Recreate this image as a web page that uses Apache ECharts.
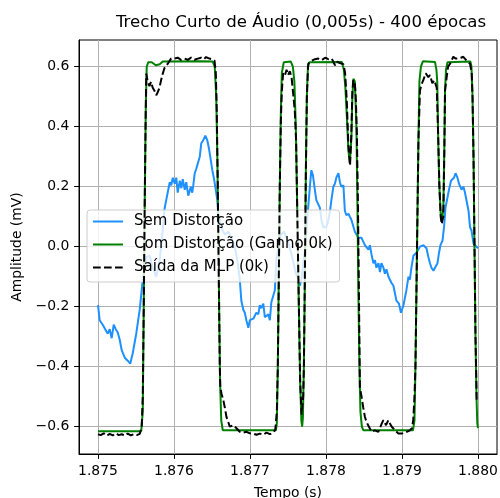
<!DOCTYPE html>
<html>
<head>
<meta charset="utf-8">
<script src="https://cdn.jsdelivr.net/npm/echarts@6/dist/echarts.min.js"></script>
<style>html,body{margin:0;padding:0;background:#fff}#c{width:500px;height:498px}</style>
</head>
<body>
<div id="c"></div>
<script>
const titleText = 'Trecho Curto de Áudio (0,005s) - 400 épocas';
const seriesNames = ['Sem Distorção', 'Com Distorção (Ganho 0k)', 'Saída da MLP (0k)'];
const xTicks = [1.875, 1.876, 1.877, 1.878, 1.879, 1.880];
const yTicks = [-0.6, -0.4, -0.2, 0.0, 0.2, 0.4, 0.6];

// Sem Distorção (blue)
const tBlue = [1.875000,1.875022,1.875062,1.875088,1.875128,1.875154,1.875180,1.875207,1.875233,1.875259,
1.875286,1.875312,1.875352,1.875391,1.875424,1.875457,1.875503,1.875549,1.875589,1.875635,
1.875681,1.875720,1.875766,1.875812,1.875852,1.875878,1.875905,1.875944,1.875964,1.875984,
1.876010,1.876030,1.876049,1.876076,1.876096,1.876115,1.876142,1.876161,1.876188,1.876221,
1.876240,1.876254,1.876273,1.876293,1.876319,1.876339,1.876359,1.876385,1.876412,1.876438,
1.876458,1.876477,1.876504,1.876524,1.876543,1.876570,1.876583,1.876622,1.876668,1.876715,
1.876754,1.876800,1.876833,1.876866,1.876886,1.876912,1.876932,1.876952,1.876978,1.876998,
1.877044,1.877083,1.877110,1.877129,1.877149,1.877175,1.877195,1.877215,1.877241,1.877261,
1.877281,1.877307,1.877327,1.877347,1.877373,1.877406,1.877446,1.877498,1.877551,1.877604,
1.877643,1.877656,1.877683,1.877722,1.877762,1.877788,1.877807,1.877827,1.877853,1.877873,
1.877919,1.877939,1.877965,1.878005,1.878031,1.878051,1.878071,1.878097,1.878117,1.878136,
1.878163,1.878183,1.878202,1.878229,1.878248,1.878268,1.878295,1.878314,1.878334,1.878380,
1.878426,1.878466,1.878512,1.878532,1.878558,1.878578,1.878598,1.878624,1.878644,1.878663,
1.878690,1.878710,1.878729,1.878756,1.878775,1.878795,1.878822,1.878861,1.878887,1.878907,
1.878927,1.878960,1.878986,1.879019,1.879058,1.879085,1.879104,1.879124,1.879150,1.879190,
1.879236,1.879282,1.879302,1.879322,1.879348,1.879368,1.879388,1.879414,1.879434,1.879467,
1.879487,1.879506,1.879533,1.879553,1.879572,1.879599,1.879618,1.879645,1.879684,1.879704,
1.879730,1.879750,1.879770,1.879783,1.879809,1.879829,1.879849,1.879875,1.879895,1.879914,
1.879941,1.879960,1.879980,1.880000];
const vBlue = [-0.195,-0.245,-0.26,-0.26,-0.29,-0.275,-0.305,-0.26,-0.275,-0.285,
-0.31,-0.345,-0.37,-0.38,-0.39,-0.355,-0.29,-0.21,-0.11,-0.035,
-0.03,-0.07,-0.10,-0.045,0.055,0.13,0.165,0.215,0.205,0.23,
0.21,0.23,0.18,0.22,0.195,0.225,0.19,0.215,0.17,0.20,
0.18,0.205,0.245,0.26,0.265,0.30,0.345,0.355,0.37,0.355,
0.33,0.30,0.255,0.23,0.20,0.155,0.11,0.065,0.04,0.05,
0.03,0.0,-0.045,-0.11,-0.18,-0.21,-0.22,-0.245,-0.27,-0.245,
-0.24,-0.22,-0.225,-0.195,-0.205,-0.19,-0.235,-0.24,-0.225,-0.245,
-0.185,-0.185,-0.145,-0.045,0.0,0.04,0.05,0.02,-0.03,-0.09,
-0.11,-0.13,-0.10,-0.01,0.12,0.20,0.255,0.24,0.19,0.155,
0.13,0.09,0.065,0.065,0.09,0.115,0.155,0.20,0.21,0.23,
0.245,0.215,0.20,0.205,0.12,0.105,0.11,0.10,0.09,0.05,
0.03,0.03,0.005,0.01,-0.01,0.005,-0.025,-0.055,-0.045,-0.07,
-0.055,-0.085,-0.055,-0.07,-0.09,-0.075,-0.10,-0.12,-0.13,-0.155,
-0.18,-0.19,-0.22,-0.195,-0.145,-0.10,-0.11,-0.07,-0.03,-0.02,
0.0,0.005,0.01,-0.005,-0.035,-0.055,-0.07,-0.08,-0.07,-0.055,
-0.02,0.005,0.02,0.065,0.13,0.165,0.19,0.22,0.23,0.245,
0.23,0.21,0.215,0.19,0.20,0.18,0.175,0.12,0.065,0.055,
0.01,0.005,0.0,-0.005];

// Com Distorção (green)
const tGreen = [1.875000,1.875569,1.875589,1.875602,1.875615,1.875628,1.875641,1.875661,1.875707,1.875760,
1.875786,1.875812,1.875852,1.876339,1.876510,1.876536,1.876556,1.876570,1.876583,1.876596,
1.876606,1.876622,1.876642,1.877340,1.877353,1.877366,1.877379,1.877392,1.877406,1.877419,
1.877445,1.877537,1.877564,1.877584,1.877603,1.877623,1.877643,1.877660,1.877676,1.877686,
1.877696,1.877709,1.877722,1.877735,1.877748,1.877762,1.877781,1.878209,1.878235,1.878255,
1.878275,1.878295,1.878314,1.878334,1.878347,1.878360,1.878380,1.878400,1.878413,1.878426,
1.878440,1.878453,1.878472,1.878492,1.879144,1.879164,1.879177,1.879190,1.879203,1.879216,
1.879229,1.879249,1.879275,1.879434,1.879453,1.879464,1.879477,1.879490,1.879509,1.879522,
1.879533,1.879544,1.879557,1.879566,1.879579,1.879599,1.879618,1.879901,1.879914,1.879928,
1.879941,1.879954,1.879967,1.879980,1.879991,1.880000];
const vGreen = [-0.615,-0.615,-0.55,-0.2,0.15,0.45,0.6,0.615,0.615,0.605,
0.6,0.608,0.617,0.618,0.617,0.6,0.5,0.3,0.05,-0.25,
-0.45,-0.58,-0.612,-0.612,-0.59,-0.4,-0.1,0.2,0.45,0.58,
0.615,0.617,0.6,0.55,0.4,0.1,-0.2,-0.45,-0.58,-0.6,
-0.57,-0.4,-0.1,0.25,0.5,0.6,0.615,0.616,0.59,0.53,
0.43,0.32,0.28,0.36,0.5,0.56,0.55,0.4,0.15,-0.15,
-0.4,-0.55,-0.6,-0.612,-0.612,-0.58,-0.4,-0.15,0.1,0.35,
0.55,0.6,0.618,0.616,0.59,0.55,0.35,0.21,0.11,0.085,
0.1,0.13,0.33,0.52,0.59,0.615,0.618,0.617,0.6,0.5,
0.3,0.0,-0.3,-0.5,-0.59,-0.605];

// Saída da MLP (black dashed)
const tMlp = [1.875000,1.875036,1.875075,1.875115,1.875154,1.875194,1.875233,1.875273,1.875312,1.875352,
1.875391,1.875431,1.875470,1.875510,1.875549,1.875575,1.875589,1.875602,1.875615,1.875628,
1.875635,1.875654,1.875677,1.875698,1.875720,1.875743,1.875766,1.875786,1.875809,1.875830,
1.875852,1.875874,1.875918,1.875961,1.876006,1.876049,1.876093,1.876138,1.876181,1.876225,
1.876269,1.876313,1.876356,1.876392,1.876422,1.876466,1.876504,1.876533,1.876550,1.876563,
1.876576,1.876589,1.876603,1.876609,1.876625,1.876648,1.876668,1.876690,1.876715,1.876734,
1.876778,1.876822,1.876866,1.876910,1.876955,1.876998,1.877042,1.877086,1.877129,1.877173,
1.877217,1.877261,1.877304,1.877333,1.877353,1.877366,1.877379,1.877392,1.877406,1.877419,
1.877436,1.877458,1.877481,1.877502,1.877524,1.877547,1.877568,1.877590,1.877607,1.877623,
1.877643,1.877660,1.877679,1.877689,1.877700,1.877709,1.877722,1.877735,1.877748,1.877766,
1.877811,1.877855,1.877899,1.877944,1.877988,1.878031,1.878076,1.878119,1.878142,1.878185,
1.878229,1.878251,1.878273,1.878294,1.878316,1.878334,1.878347,1.878360,1.878380,1.878393,
1.878406,1.878420,1.878433,1.878446,1.878468,1.878489,1.878512,1.878534,1.878555,1.878600,
1.878644,1.878688,1.878733,1.878755,1.878790,1.878820,1.878843,1.878865,1.878909,1.878953,
1.878998,1.879063,1.879104,1.879131,1.879148,1.879164,1.879177,1.879190,1.879203,1.879216,
1.879236,1.879256,1.879280,1.879312,1.879346,1.879368,1.879399,1.879425,1.879457,1.879467,
1.879478,1.879491,1.879509,1.879523,1.879533,1.879544,1.879557,1.879566,1.879588,1.879606,
1.879632,1.879675,1.879707,1.879741,1.879776,1.879806,1.879851,1.879895,1.879917,1.879928,
1.879941,1.879954,1.879967,1.879983];
const vMlp = [-0.625,-0.628,-0.622,-0.63,-0.624,-0.629,-0.622,-0.628,-0.625,-0.63,
-0.623,-0.629,-0.625,-0.628,-0.624,-0.6,-0.5,-0.2,0.15,0.45,
0.577,0.55,0.535,0.55,0.53,0.52,0.505,0.515,0.53,0.555,
0.577,0.595,0.61,0.627,0.627,0.63,0.623,0.627,0.623,0.63,
0.623,0.627,0.63,0.625,0.632,0.627,0.625,0.62,0.58,0.45,
0.2,-0.1,-0.4,-0.467,-0.49,-0.51,-0.535,-0.567,-0.585,-0.6,
-0.595,-0.605,-0.617,-0.62,-0.617,-0.622,-0.623,-0.627,-0.623,-0.627,
-0.62,-0.625,-0.62,-0.61,-0.55,-0.4,-0.1,0.2,0.42,0.52,
0.578,0.57,0.59,0.572,0.585,0.565,0.51,0.45,0.35,0.1,
-0.2,-0.45,-0.56,-0.53,-0.5,-0.4,-0.1,0.25,0.5,0.61,
0.62,0.625,0.627,0.622,0.63,0.625,0.627,0.605,0.617,0.612,
0.608,0.58,0.49,0.34,0.27,0.38,0.52,0.555,0.545,0.49,
0.38,0.15,-0.15,-0.47,-0.5,-0.535,-0.567,-0.585,-0.595,-0.617,
-0.612,-0.617,-0.59,-0.578,-0.595,-0.578,-0.59,-0.6,-0.612,-0.623,
-0.623,-0.617,-0.612,-0.605,-0.578,-0.5,-0.4,-0.15,0.1,0.35,
0.52,0.54,0.555,0.578,0.565,0.572,0.545,0.555,0.53,0.45,
0.35,0.21,0.1,0.075,0.09,0.1,0.32,0.52,0.565,0.6,
0.61,0.633,0.627,0.628,0.63,0.633,0.62,0.61,0.58,0.5,
0.3,0.0,-0.3,-0.52];

const FONT = 'DejaVu Sans';
const zip = (t, v) => t.map((x, i) => [x, v[i]]);
const fmtY = v => (v < -1e-9 ? '\u2212' : '') + Math.abs(v).toFixed(1);

const chart = echarts.init(document.getElementById('c'), null, {renderer: 'canvas'});
chart.setOption({
  animation: false,
  backgroundColor: '#ffffff',
  title: {
    text: titleText, left: 301, top: 14, textAlign: 'center', padding: 0,
    textStyle: {fontFamily: FONT, fontSize: 16.6, fontWeight: 'normal', color: '#000'}
  },
  legend: {
    data: seriesNames, orient: 'vertical', left: 87, top: 210,
    padding: [4, 7, 7, 5], itemGap: 8, itemWidth: 30, itemHeight: 15,
    backgroundColor: 'rgba(255,255,255,0.8)', borderColor: '#cccccc', borderWidth: 1, borderRadius: 3,
    itemStyle: {opacity: 0, color: 'transparent', borderColor: 'transparent', borderWidth: 0},
    textStyle: {fontFamily: FONT, fontSize: 15, color: '#000', padding: [0, 0, 0, 6]}
  },
  grid: {left: 79, right: 3, top: 40, bottom: 44, show: true, borderColor: '#000', borderWidth: 1,
         backgroundColor: 'transparent', containLabel: false, outerBoundsMode: 'none'},
  xAxis: {
    type: 'value', min: 1.87475, max: 1.88025,
    axisLine: {show: true, onZero: false, lineStyle: {color: '#000', width: 1}},
    axisTick: {show: true, length: 4.9, customValues: xTicks, lineStyle: {color: '#000', width: 1}},
    axisLabel: {customValues: xTicks, formatter: v => v.toFixed(3), margin: 10.5, color: '#000', fontFamily: FONT, fontSize: 13.9},
    splitLine: {show: true, lineStyle: {color: '#b0b0b0', width: 1}},
    name: 'Tempo (s)', nameLocation: 'middle', nameGap: 32,
    nameTextStyle: {fontFamily: FONT, fontSize: 13.9, color: '#000'}
  },
  yAxis: {
    type: 'value', min: -0.691, max: 0.689,
    axisLine: {show: true, onZero: false, lineStyle: {color: '#000', width: 1}},
    axisTick: {show: true, length: 4.9, customValues: yTicks, lineStyle: {color: '#000', width: 1}},
    axisLabel: {customValues: yTicks, formatter: fmtY, margin: 9.7, color: '#000', fontFamily: FONT, fontSize: 13.9},
    splitLine: {show: true, lineStyle: {color: '#b0b0b0', width: 1}},
    name: 'Amplitude (mV)', nameLocation: 'middle', nameGap: 53,
    nameTextStyle: {fontFamily: FONT, fontSize: 13.9, color: '#000'}
  },
  series: [
    {name: seriesNames[0], type: 'line', data: zip(tBlue, vBlue), showSymbol: false, symbol: 'none',
     lineStyle: {color: '#1e90ff', width: 2}, itemStyle: {color: '#1e90ff'}, z: 2},
    {name: seriesNames[1], type: 'line', data: zip(tGreen, vGreen), showSymbol: false, symbol: 'none',
     lineStyle: {color: '#008000', width: 2}, itemStyle: {color: '#008000'}, z: 3},
    {name: seriesNames[2], type: 'line', data: zip(tMlp, vMlp), showSymbol: false, symbol: 'none',
     lineStyle: {color: '#000000', width: 2, type: [7.7, 3.3]}, itemStyle: {color: '#000000'}, z: 4}
  ]
});
</script>
</body>
</html>
